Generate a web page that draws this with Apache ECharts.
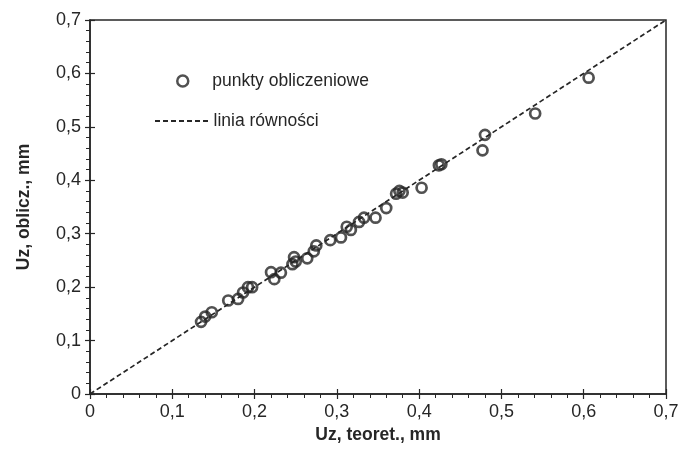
<!DOCTYPE html>
<html>
<head>
<meta charset="utf-8">
<script src="https://cdn.jsdelivr.net/npm/echarts@6/dist/echarts.min.js"></script>
<style>
  html, body { margin: 0; padding: 0; background: #fff; }
  #chart { width: 685px; height: 459px; }
</style>
</head>
<body>
<div id="chart"></div>
<script>
// Uz teoret. vs Uz oblicz. (mm)
const pointsTheor = [0.135, 0.140, 0.148, 0.168, 0.180, 0.186, 0.192, 0.197, 0.220, 0.224, 0.232,
    0.246, 0.248, 0.250, 0.264, 0.272, 0.275, 0.292, 0.305, 0.312, 0.317, 0.327, 0.333,
    0.347, 0.360, 0.372, 0.376, 0.380, 0.403, 0.424, 0.427, 0.477, 0.480, 0.541, 0.606]
const pointsCalc = [0.135, 0.145, 0.153, 0.175, 0.178, 0.190, 0.200, 0.200, 0.228, 0.215, 0.227,
    0.243, 0.256, 0.248, 0.254, 0.267, 0.278, 0.288, 0.293, 0.313, 0.307, 0.322, 0.330,
    0.330, 0.348, 0.375, 0.380, 0.377, 0.386, 0.428, 0.430, 0.456, 0.485, 0.525, 0.592]
const equalityLine = [[0, 0], [0.7, 0.7]]
const seriesNames = ['punkty obliczeniowe', 'linia równości']
const xName = 'Uz, teoret., mm'
const yName = 'Uz, oblicz., mm'

const dark = '#262626'
const font = 'Liberation Sans'

const fmt = v => v === 0 ? '0' : v.toFixed(1).replace('.', ',')

// legend sample for the dashed line: 7 short dashes
const dashIcon = 'path://M0,0h5v2h-5z M8,0h5v2h-5z M16,0h5v2h-5z M24,0h5v2h-5z M32,0h5v2h-5z M40,0h5v2h-5z M48,0h5v2h-5z'

function mainAxis(name, nameGap) {
    return {
        type: 'value',
        min: 0,
        max: 0.7,
        interval: 0.1,
        name: name,
        nameLocation: 'middle',
        nameGap: nameGap,
        nameTextStyle: { color: dark, fontSize: 17.5, fontWeight: 'bold', fontFamily: font },
        axisLine: { show: true, lineStyle: { color: dark, width: 1.5 } },
        axisTick: { show: true, length: 5, lineStyle: { color: dark, width: 1.2 } },
        minorTick: { show: true, splitNumber: 5, length: 4, lineStyle: { color: dark, width: 1 } },
        splitLine: { show: false },
        axisLabel: { color: dark, fontSize: 18, fontFamily: font, margin: 9, formatter: fmt }
    }
}

// second copy of each axis only draws the inner half of the crossing major ticks
function innerTicks() {
    return {
        type: 'value',
        min: 0,
        max: 0.7,
        interval: 0.1,
        axisLine: { show: false },
        axisTick: { show: true, inside: true, length: 5, lineStyle: { color: dark, width: 1.2 } },
        axisLabel: { show: false },
        splitLine: { show: false }
    }
}

const chart = echarts.init(document.getElementById('chart'))
chart.setOption({
    animation: false,
    backgroundColor: '#fff',
    grid: {
        left: 90, right: 19, top: 20, bottom: 65,
        show: true,
        borderColor: dark,
        borderWidth: 1.5
    },
    legend: [
        {
            data: [seriesNames[0]],
            left: 171, top: 67,
            itemWidth: 11, itemHeight: 11,
            itemStyle: { borderWidth: 2.5, borderColor: dark, color: 'rgba(255,255,255,0)' },
            textStyle: { color: dark, fontSize: 17.5, fontFamily: font, padding: [0, 0, 0, 19] }
        },
        {
            data: [{ name: seriesNames[1], icon: dashIcon }],
            left: 150, top: 107,
            itemWidth: 54, itemHeight: 2,
            itemStyle: { color: dark },
            textStyle: { color: dark, fontSize: 17.5, fontFamily: font }
        }
    ],
    xAxis: [
        Object.assign(mainAxis(xName, 29), { position: 'bottom' }),
        Object.assign(innerTicks(), { position: 'bottom' })
    ],
    yAxis: [
        Object.assign(mainAxis(yName, 57), { position: 'left' }),
        Object.assign(innerTicks(), { position: 'left' })
    ],
    series: [
        {
            name: seriesNames[1],
            type: 'line',
            data: equalityLine,
            showSymbol: false,
            symbol: 'none',
            lineStyle: { color: dark, width: 1.7, type: [5, 3] },
            itemStyle: { color: dark },
            z: 1
        },
        {
            name: seriesNames[0],
            type: 'scatter',
            data: pointsTheor.map((x, i) => [x, pointsCalc[i]]),
            symbol: 'circle',
            symbolSize: 10,
            itemStyle: { color: 'rgba(255,255,255,0)', borderColor: dark, borderWidth: 2.7 },
            z: 3
        }
    ]
})
</script>
</body>
</html>
